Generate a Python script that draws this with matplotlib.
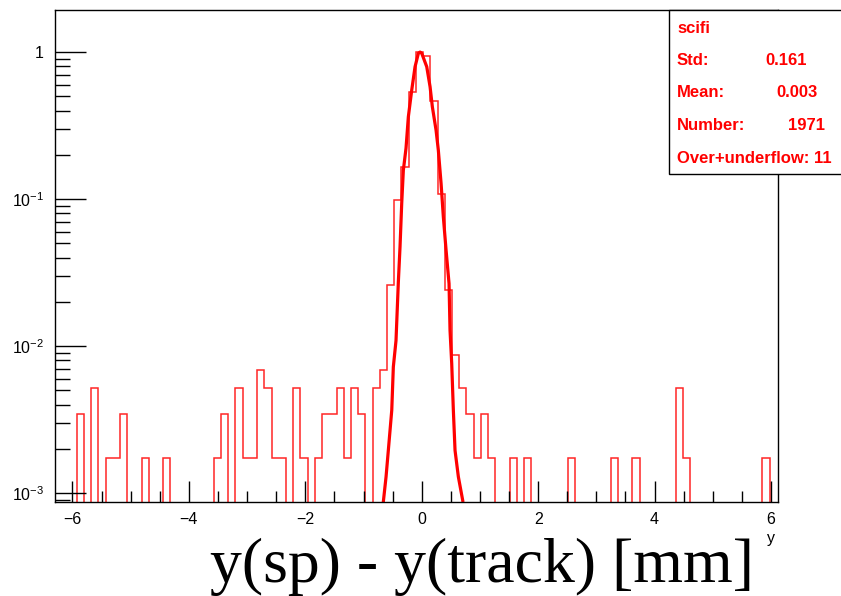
import numpy as np
import matplotlib
matplotlib.use('Agg')
import matplotlib.pyplot as plt
from matplotlib.patches import Rectangle
from matplotlib.ticker import FixedLocator, FixedFormatter, MultipleLocator

# histogram: 100 bins between -6.3 and 6.1, entries per bin
x_lo, x_hi, nbins = -6.3, 6.1, 100
counts = [0, 0, 0, 2, 0, 3, 0, 1, 1, 2,
          0, 0, 1, 0, 0, 1, 0, 0, 0, 0,
          0, 0, 1, 2, 0, 3, 1, 1, 4, 3,
          1, 1, 0, 3, 1, 0, 1, 2, 2, 3,
          1, 3, 2, 0, 3, 4, 15, 57, 96, 310,
          578, 546, 269, 63, 14, 5, 3, 2, 1, 2,
          1, 0, 0, 1, 0, 1, 0, 0, 0, 0,
          0, 1, 0, 0, 0, 0, 0, 1, 0, 0,
          1, 0, 0, 0, 0, 0, 3, 1, 0, 0,
          0, 0, 0, 0, 0, 0, 0, 0, 1, 0]

# thick curve (x, normalised height)
curve_x = [-0.66, -0.613, -0.574, -0.515, -0.488, -0.442, -0.402, -0.373, -0.344, -0.316,
           -0.270, -0.230, -0.172, -0.115, -0.058, -0.029, 0.0, 0.086, 0.143, 0.182,
           0.246, 0.285, 0.332, 0.371, 0.418, 0.469, 0.486, 0.515, 0.543, 0.572,
           0.629, 0.704]
curve_y = [8.7e-4, 1.29e-3, 1.95e-3, 3.66e-3, 7.21e-3, 1.09e-2, 2.72e-2, 4.73e-2, 9.33e-2, 0.157,
           0.222, 0.363, 0.551, 0.794, 0.98, 1.0, 0.98, 0.794, 0.581, 0.425,
           0.294, 0.215, 0.128, 0.0757, 0.0449, 0.0266, 0.0128, 7.6e-3, 3.66e-3, 1.95e-3,
           1.29e-3, 8.9e-4]

x_ticks = [-6, -4, -2, 0, 2, 4, 6]
x_ticklabels = ['\u22126', '\u22124', '\u22122', '0', '2', '4', '6']
y_ticks = [1e-3, 1e-2, 1e-1, 1]
y_ticklabels = ['$10^{-3}$', '$10^{-2}$', '$10^{-1}$', '1']

stats_labels = ['scifi', 'Std:', 'Mean:', 'Number:', 'Over+underflow: 11']
stats_values = ['', '0.161', '0.003', '1971', '']

plt.rcParams['font.family'] = 'Liberation Sans'
plt.rcParams['mathtext.fontset'] = 'custom'
plt.rcParams['mathtext.rm'] = 'Liberation Sans'
plt.rcParams['mathtext.it'] = 'Liberation Sans:italic'
plt.rcParams['mathtext.default'] = 'regular'

W, H = 841, 596
fig = plt.figure(figsize=(W / 100, H / 100), dpi=100)
ax = fig.add_axes([55 / W, 1 - 502 / H, (778 - 55) / W, (502 - 10) / H])

edges = np.linspace(x_lo, x_hi, nbins + 1)
vals = np.array(counts, dtype=float) / max(counts)
vals[vals == 0] = 1e-9  # empty bins drop to the bottom like ROOT
ax.stairs(vals, edges, baseline=None, color='#ff0000', lw=1.1, alpha=0.85)
ax.plot(curve_x, curve_y, color='#ff0000', lw=2.3)

ax.set_yscale('log')
ax.set_xlim(x_lo, x_hi + 0.02)
ax.set_ylim(10 ** -3.061, 10 ** 0.286)

ax.xaxis.set_major_locator(FixedLocator(x_ticks))
ax.xaxis.set_major_formatter(FixedFormatter(x_ticklabels))
ax.xaxis.set_minor_locator(MultipleLocator(0.5))
ax.yaxis.set_major_locator(FixedLocator(y_ticks))
ax.yaxis.set_major_formatter(FixedFormatter(y_ticklabels))
minor_y = [m * 10.0 ** e for e in (-4, -3, -2, -1, 0) for m in range(2, 10)]
ax.yaxis.set_minor_locator(FixedLocator(minor_y))

ax.tick_params(which='both', direction='in', top=False, right=False, width=1, colors='black')
ax.tick_params(axis='x', which='major', length=15, labelsize=11.5, pad=7)
ax.tick_params(axis='x', which='minor', length=8)
ax.tick_params(axis='y', which='major', length=22, labelsize=11.5, pad=8)
ax.tick_params(axis='y', which='minor', length=11)
ax.set_axisbelow(False)
for s in ax.spines.values():
    s.set_linewidth(1)

# small ROOT axis title and the big label underneath
fig.text(775 / W, 1 - 543 / H, 'y', ha='right', va='baseline', fontsize=11.5)
fig.text(482 / W, 1 - 582 / H, 'y(sp) - y(track) [mm]', ha='center', va='baseline',
         fontsize=46, family='Liberation Serif')

# stats box
box = Rectangle((668.5 / W, 1 - 173.5 / H), 0.3, (173.5 - 10) / H, transform=fig.transFigure,
                facecolor='white', edgecolor='black', lw=1, zorder=5)
fig.add_artist(box)
rows_y = [33, 65, 97, 130, 163]
value_x = [0, 806.7, 818, 825, 0]
for lab, v, yy, vx in zip(stats_labels, stats_values, rows_y, value_x):
    fig.text(677 / W, 1 - yy / H, lab, color='#ff0000', fontsize=12, fontweight='bold',
             va='baseline', ha='left', zorder=6)
    if v:
        fig.text(vx / W, 1 - yy / H, v, color='#ff0000', fontsize=12, fontweight='bold',
                 va='baseline', ha='right', zorder=6)

fig.savefig('out.png', dpi=100)
